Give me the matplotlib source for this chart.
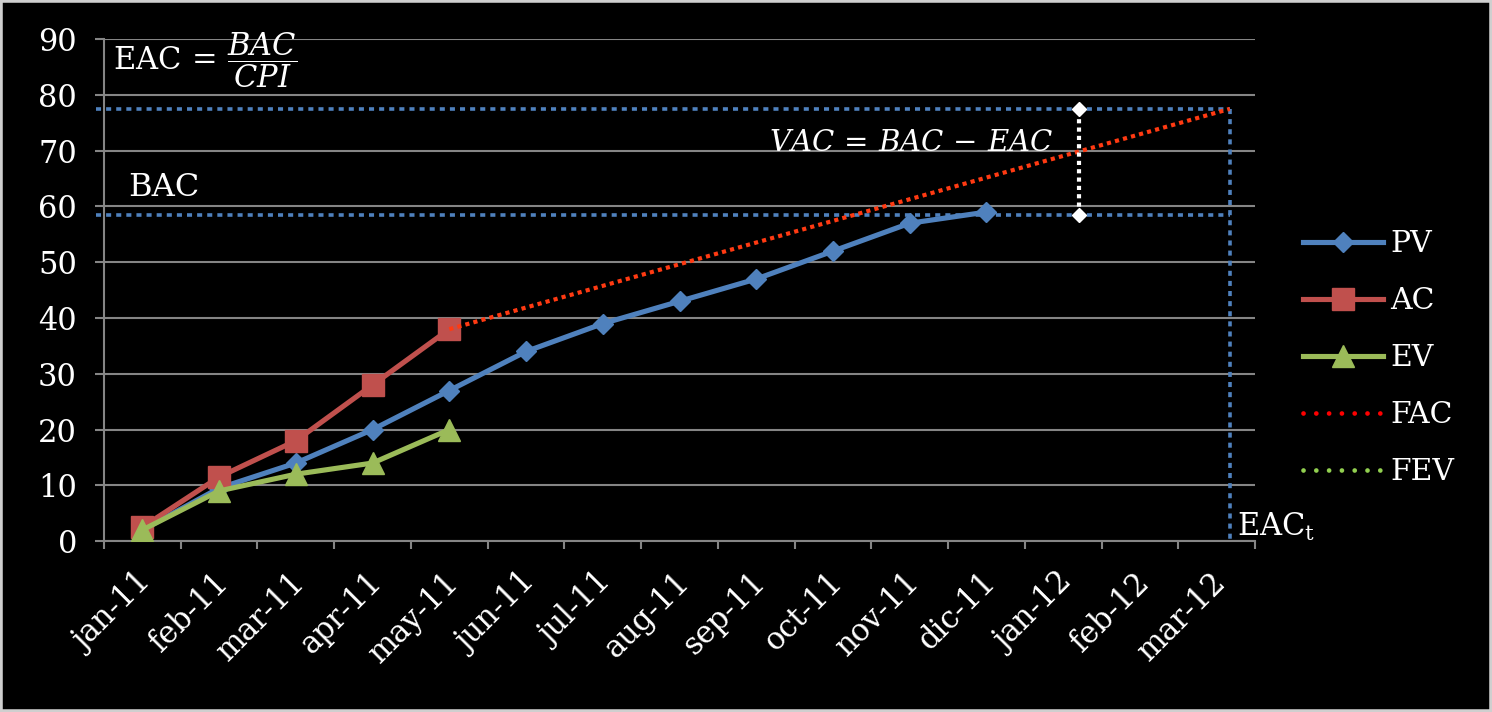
import numpy as np
import matplotlib
matplotlib.use("Agg")
import matplotlib.pyplot as plt
from matplotlib.lines import Line2D
from matplotlib.patches import Rectangle
import matplotlib.transforms as mtransforms

plt.rcParams['font.family'] = ['DejaVu Serif']
plt.rcParams['mathtext.fontset'] = 'dejavuserif'

# Data
months = ['jan-11', 'feb-11', 'mar-11', 'apr-11', 'may-11', 'jun-11', 'jul-11',
          'aug-11', 'sep-11', 'oct-11', 'nov-11', 'dic-11', 'jan-12', 'feb-12', 'mar-12']
pv = [2, 9.5, 14, 20, 27, 34, 39, 43, 47, 52, 57, 59]
ac = [2.5, 11.5, 18, 28, 38]
ev = [2, 9, 12, 14, 20]
bac = 58.5
eac = 77.5
eac_t = 14.17      # month position of the estimated end date
vac_pos = 12.2     # month position of the VAC marker

blue = '#4F81BD'
red = '#C0504D'
green = '#9BBB59'
grid_gray = '#858585'

fig = plt.figure(figsize=(14.92, 7.12), dpi=100, facecolor='black')
ax = fig.add_axes([0.0697, 0.240, 0.7715, 0.705])
ax.set_facecolor('black')

x = np.arange(len(months))

# BAC / EAC guide lines
ax.plot([-0.6, eac_t], [eac, eac], color=blue, lw=2.6, ls=(0, (1.4, 1.4)), clip_on=False, zorder=2)
ax.plot([-0.6, eac_t], [bac, bac], color=blue, lw=2.6, ls=(0, (1.4, 1.4)), clip_on=False, zorder=2)
ax.plot([eac_t, eac_t], [eac, -0.4], color=blue, lw=2.6, ls=(0, (1.4, 1.4)), clip_on=False, zorder=2)

# series
ax.plot(x[:len(pv)], pv, color=blue, lw=3.7, marker='D', markersize=10.5, zorder=4)
ax.plot(x[:len(ac)], ac, color=red, lw=3.7, marker='s', markersize=15.5, zorder=5)
ax.plot(x[:len(ev)], ev, color=green, lw=3.7, marker='^', markersize=16, zorder=6)

# forecast of AC
ax.plot([len(ac) - 1, eac_t], [ac[-1], eac], color='#FF3A12', lw=3, ls=(0, (1, 1)), zorder=7)

# VAC bracket
ax.plot([vac_pos, vac_pos], [bac, eac], color='white', lw=3, ls=(0, (1, 1)),
        marker='D', markersize=7, markevery=[0, 1], zorder=8, clip_on=False)

ax.set_xlim(-0.5, len(months) - 0.5)
ax.set_ylim(0, 90)
ax.set_yticks(np.arange(0, 91, 10))
ax.set_xticks(x)
ax.set_xticklabels(months, rotation=45, ha='right', va='center', rotation_mode='anchor')
ax.set_xticks(np.arange(-0.5, len(months), 1), minor=True)

ax.tick_params(axis='x', which='major', length=0, pad=26, labelsize=22, colors='white')
ax.tick_params(axis='x', which='minor', length=6, width=1.5, color=grid_gray)
ax.tick_params(axis='y', length=6.5, width=1.5, color=grid_gray, pad=13, labelsize=22,
               labelcolor='white')

offset = mtransforms.ScaledTranslation(0.05, 0, fig.dpi_scale_trans)
for lab in ax.get_xticklabels():
    lab.set_transform(lab.get_transform() + offset)

ax.yaxis.grid(True, color=grid_gray, lw=1.5)
ax.set_axisbelow(True)
for side in ['top', 'right']:
    ax.spines[side].set_visible(False)
for side in ['left', 'bottom']:
    ax.spines[side].set_color(grid_gray)
    ax.spines[side].set_linewidth(1.5)

# annotations
ax.text(-0.38, 86.3, r'$\mathrm{EAC}\,=\,\dfrac{BAC}{CPI}$', color='white', fontsize=22,
        ha='left', va='center')
ax.text(-0.19, 63.4, 'BAC', color='white', fontsize=23, ha='left', va='center')
ax.text(8.16, 71.3, r'$VAC\,=\,BAC\,-\,EAC$', color='white', fontsize=21, ha='left', va='center')
ax.text(14.27, 1.0, r'$\mathrm{EAC}_\mathrm{t}$', color='white', fontsize=22,
        ha='left', va='baseline', clip_on=False)

# legend
handles = [
    Line2D([], [], color=blue, lw=3.7, marker='D', markersize=10.5),
    Line2D([], [], color=red, lw=3.7, marker='s', markersize=15.5),
    Line2D([], [], color=green, lw=3.7, marker='^', markersize=16),
    Line2D([], [], color='red', lw=3.4, ls=(0, (0.01, 2.7)), dash_capstyle='round'),
    Line2D([], [], color='#92D050', lw=3.4, ls=(0, (0.01, 2.7)), dash_capstyle='round'),
]
fig.legend(handles, ['PV', 'AC', 'EV', 'FAC', 'FEV'], loc='center left',
           bbox_to_anchor=(0.873, 0.497), frameon=False, fontsize=21.5, labelcolor='white',
           handlelength=2.7, handletextpad=0.25, labelspacing=0.97,
           borderpad=0, borderaxespad=0)

fig.add_artist(Rectangle((0, 0), 1, 1, transform=fig.transFigure, fill=False,
                         edgecolor='#cfcfcf', lw=4))

fig.savefig('out.png', dpi=100, facecolor='black')
